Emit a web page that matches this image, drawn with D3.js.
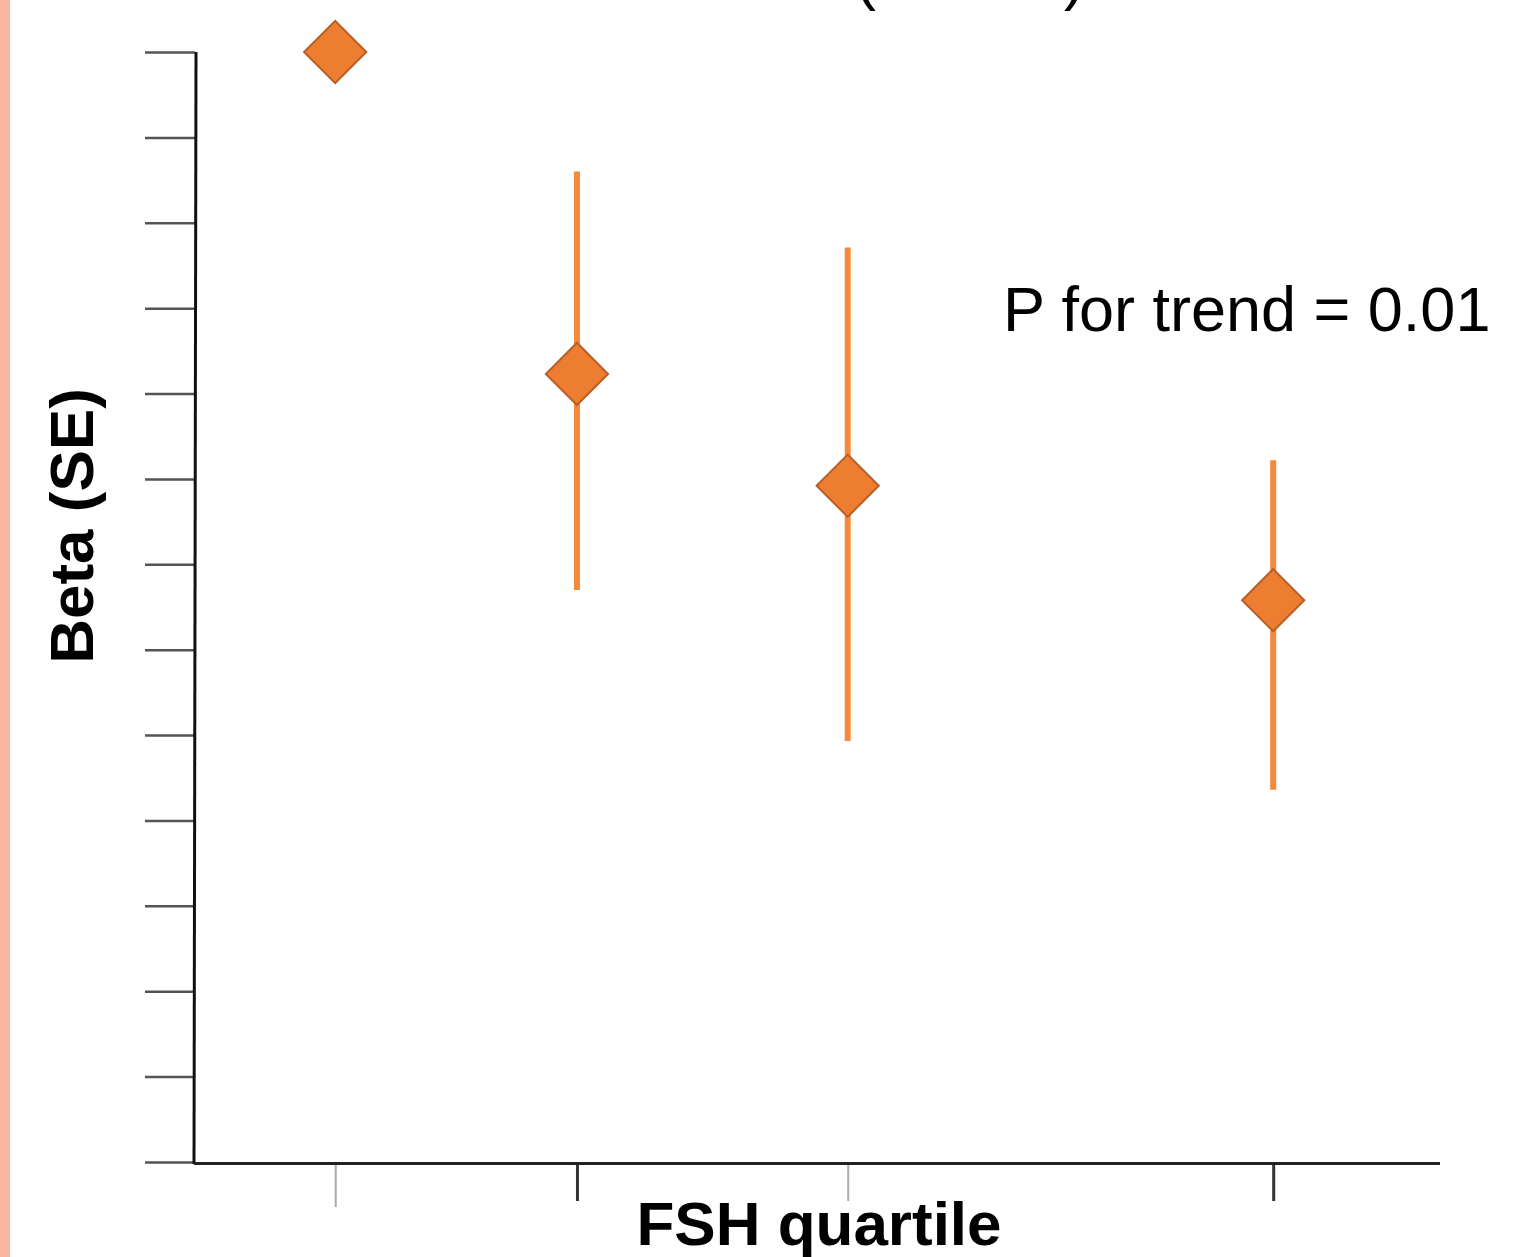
<!DOCTYPE html>
<html>
<head>
<meta charset="utf-8">
<script src="https://cdn.jsdelivr.net/npm/d3@7"></script>
<style>
  html, body { margin: 0; padding: 0; background: #fff; }
  svg { display: block; }
</style>
</head>
<body>
<div id="chart"></div>
<script>
// ---- Data (y on an unlabelled 0..13 tick grid) ----
const categories = ["Q1", "Q2", "Q3", "Q4"];
const xPositions = [1, 2, 3.12, 4.88];     // position of each quartile on the hidden x axis
const betas      = [13, 9.23, 7.92, 6.58];
const upperSE    = [null, 11.6, 10.71, 8.22];
const lowerSE    = [null, 6.70, 4.93, 4.36];
const yTicks     = [0,1,2,3,4,5,6,7,8,9,10,11,12,13];
const annotation = "P for trend = 0.01";
const xTitle = "FSH quartile";
const yTitle = "Beta (SE)";

const W = 1533, H = 1257;
const svg = d3.select("#chart").append("svg").attr("width", W).attr("height", H);

// pink strip at the left edge
svg.append("rect").attr("x", 0).attr("y", 0).attr("width", 10).attr("height", H).attr("fill", "#F9B6A2");

const x = d3.scaleLinear().domain([0.42, 5.57]).range([195, 1440]);
const y = d3.scaleLinear().domain([0, 13]).range([1162, 52]);

// partial (cut-off) title parentheses
svg.append("text").attr("x", 855).attr("y", -2).attr("font-family", "Liberation Sans, Arial, sans-serif")
  .attr("font-size", 63).text("(");
svg.append("text").attr("x", 1064).attr("y", -2).attr("font-family", "Liberation Sans, Arial, sans-serif")
  .attr("font-size", 63).text(")");

// y axis
const yAxis = svg.append("g").attr("transform", "translate(195,0)")
  .call(d3.axisLeft(y).tickValues(yTicks).tickSize(50).tickFormat(""));
yAxis.select(".domain").remove();
yAxis.selectAll(".tick line").attr("stroke", "#555").attr("stroke-width", 2.5);
svg.append("line").attr("x1", 196).attr("y1", y(13)).attr("x2", 194).attr("y2", 1164)
  .attr("stroke", "#111").attr("stroke-width", 3);

// x axis
const xAxis = svg.append("g").attr("transform", "translate(0,1163)")
  .call(d3.axisBottom(x).tickValues(xPositions).tickSize(40).tickFormat(""));
xAxis.select(".domain").remove();
xAxis.selectAll(".tick line")
  .attr("stroke", (d, i) => (i % 2 === 0 ? "#aaa" : "#333"))
  .attr("stroke-width", (d, i) => (i % 2 === 0 ? 2 : 3))
  .attr("y2", (d, i) => (i === 0 ? 44 : 38));
svg.append("line").attr("x1", 194).attr("y1", 1163.5).attr("x2", 1440).attr("y2", 1163.5)
  .attr("stroke", "#222").attr("stroke-width", 3);

// error bars
const pts = categories.map((c, i) => ({ c, xv: xPositions[i], b: betas[i], hi: upperSE[i], lo: lowerSE[i] }));
svg.append("g").selectAll("line").data(pts.filter(d => d.hi != null)).join("line")
  .attr("x1", d => x(d.xv)).attr("x2", d => x(d.xv))
  .attr("y1", d => y(d.hi)).attr("y2", d => y(d.lo))
  .attr("stroke", "#F58A3A").attr("stroke-width", 6);

// diamonds
const sym = d3.symbol().type(d3.symbolSquare).size(44 * 44);
svg.append("g").selectAll("path").data(pts).join("path")
  .attr("d", sym)
  .attr("transform", d => `translate(${x(d.xv)},${y(d.b)}) rotate(45)`)
  .attr("fill", "#ED7D31").attr("stroke", "#B85F27").attr("stroke-width", 2);

// annotation
svg.append("text").attr("x", 1003).attr("y", 331)
  .attr("font-family", "Liberation Sans, Arial, sans-serif").attr("font-size", 63)
  .attr("fill", "#000").text(annotation);

// axis titles
svg.append("text").attr("x", 819).attr("y", 1245).attr("text-anchor", "middle")
  .attr("font-family", "Liberation Sans, Arial, sans-serif").attr("font-weight", "bold")
  .attr("font-size", 62).text(xTitle);
svg.append("text").attr("transform", "translate(93,526) rotate(-90)").attr("text-anchor", "middle")
  .attr("font-family", "Liberation Sans, Arial, sans-serif").attr("font-weight", "bold")
  .attr("font-size", 62).text(yTitle);
</script>
</body>
</html>
